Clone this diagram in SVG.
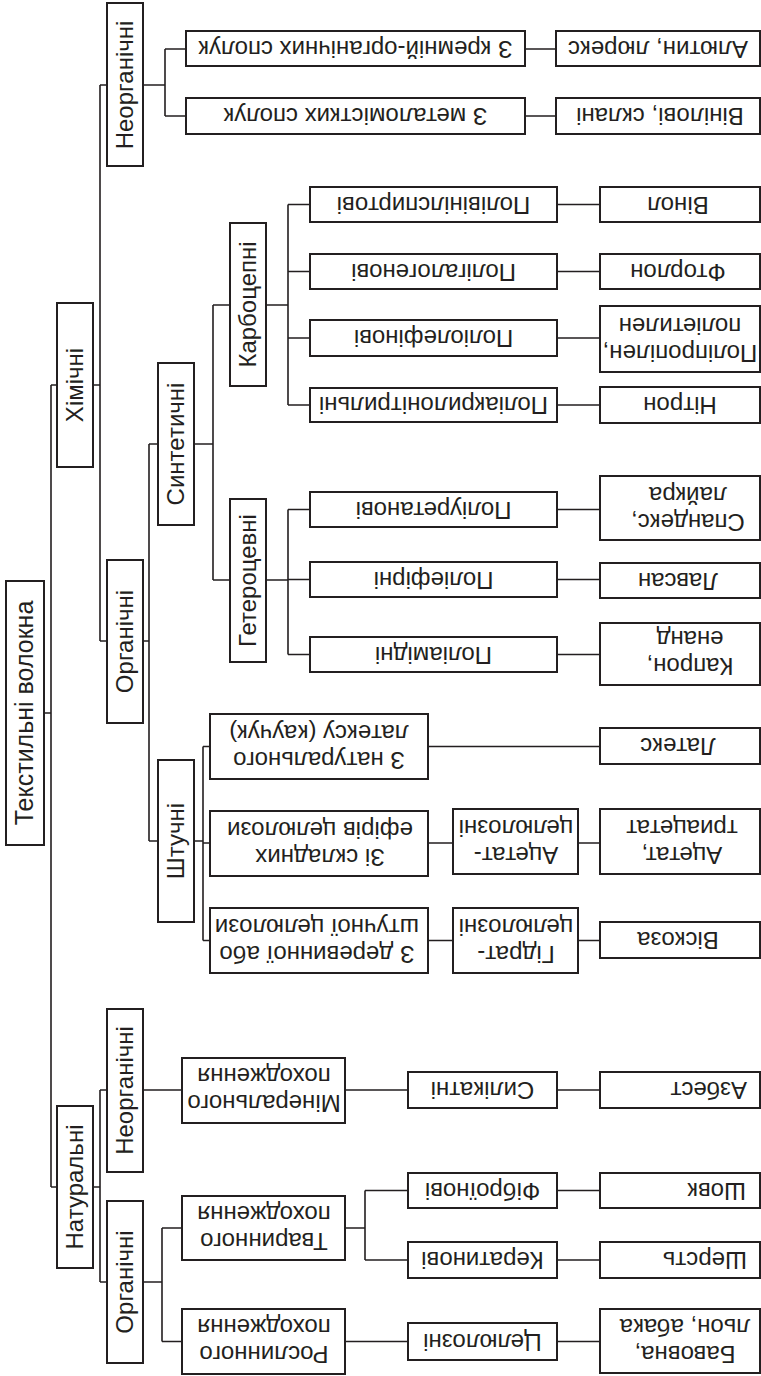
<svg xmlns="http://www.w3.org/2000/svg" width="761" height="1376" viewBox="0 0 761 1376">
<style>
.b{fill:#fff;stroke:#231f20;stroke-width:2}
.ln{stroke:#231f20;stroke-width:1.6;fill:none}
text{font-family:"Liberation Sans",Arial,sans-serif;font-size:24px;fill:#231f20;text-anchor:middle}
.rt{font-size:25px}
</style>
<rect width="761" height="1376" fill="#fff"/>
<g id="connectors" class="ln">
<path d="M44,713H51 M51,385V1187 M51,385H57 M51,1187H57"/>
<path d="M93,385H100 M100,85V641 M100,85H107 M100,641H107"/>
<path d="M143,85H165 M165,49V116 M165,49H186 M165,116H186 M525,49H556 M525,116H556"/>
<path d="M143,641H149 M149,444V841 M149,444H158 M149,841H158"/>
<path d="M194,444H213 M213,305V580 M213,305H230 M213,580H230"/>
<path d="M266,305H288 M288,204.5V405 M288,204.5H310 M288,271.5H310 M288,338H310 M288,405H310"/>
<path d="M557,204.5H600 M557,271.5H600 M557,338H600 M557,405H600"/>
<path d="M266,580H288 M288,509.5V654.5 M288,509.5H310 M288,579.5H310 M288,654.5H310"/>
<path d="M557,509.5H600 M557,579.5H600 M557,654.5H600"/>
<path d="M194,841H203 M203,746.5V940.5 M203,746.5H210 M203,843H210 M203,940.5H210"/>
<path d="M428,746.5H600 M428,843H453 M578,843H600 M428,940.5H453 M578,940.5H600"/>
<path d="M93,1187H100 M100,1090V1282 M100,1090H107 M100,1282H107"/>
<path d="M143,1090H182 M345,1090H408 M557,1090H600"/>
<path d="M143,1282H162 M162,1228V1341.5 M162,1228H182 M162,1341.5H182"/>
<path d="M345,1228H365 M365,1190.5V1260 M365,1190.5H408 M365,1260H408"/>
<path d="M557,1190.5H600 M557,1260H600 M345,1341.5H408 M557,1341.5H600"/>
</g>

<g id="root"><rect class="b" x="6" y="581" width="38" height="264"/><text class="rt" transform="translate(25,713) rotate(-90)" y="8">Текстильні волокна</text></g>
<g id="khimichni"><rect class="b" x="57" y="303" width="36" height="164"/><text transform="translate(75,385) rotate(-90)" y="8">Хімічні</text></g>
<g id="naturalni"><rect class="b" x="57" y="1106" width="36" height="162"/><text transform="translate(75,1187) rotate(-90)" y="8">Натуральні</text></g>
<g id="chem_neorg"><rect class="b" x="107" y="3" width="36" height="163"/><text transform="translate(125,85) rotate(-90)" y="8">Неорганічні</text></g>
<g id="chem_org"><rect class="b" x="107" y="560" width="36" height="163"/><text transform="translate(125,641.5) rotate(-90)" y="8">Органічні</text></g>
<g id="nat_neorg"><rect class="b" x="107" y="1009" width="36" height="163"/><text transform="translate(125,1090.5) rotate(-90)" y="8">Неорганічні</text></g>
<g id="nat_org"><rect class="b" x="107" y="1201" width="36" height="162"/><text transform="translate(125,1282) rotate(-90)" y="8">Органічні</text></g>
<g id="syntetychni"><rect class="b" x="158" y="363" width="36" height="162"/><text transform="translate(176,444) rotate(-90)" y="8">Синтетичні</text></g>
<g id="shtuchni"><rect class="b" x="158" y="760" width="36" height="162"/><text transform="translate(176,841) rotate(-90)" y="8">Штучні</text></g>
<g id="karbotsepni"><rect class="b" x="230" y="223" width="36" height="163"/><text transform="translate(248,304.5) rotate(-90)" y="8">Карбоцепні</text></g>
<g id="heterotsevni"><rect class="b" x="230" y="499" width="36" height="163"/><text transform="translate(248,580.5) rotate(-90)" y="8">Гетероцевні</text></g>

<g id="kremnii"><rect class="b" x="186" y="31" width="339" height="35"/><text transform="translate(355.5,48.5) rotate(180)" y="8">З кремній-органічних сполук</text></g>
<g id="alyutyn"><rect class="b" x="556" y="31" width="204" height="35"/><text transform="translate(658,48.5) rotate(180)" y="8">Алютин, люрекс</text></g>
<g id="metalo"><rect class="b" x="186" y="98" width="339" height="36"/><text transform="translate(355.5,116) rotate(180)" y="8">З металомістких сполук</text></g>
<g id="vinilovi"><rect class="b" x="556" y="98" width="204" height="36"/><text transform="translate(660,116) rotate(180)" y="8">Вінілові, склані</text></g>

<g id="polivinil"><rect class="b" x="310" y="187" width="247" height="35"/><text transform="translate(433.5,204.5) rotate(180)" y="8">Полівінілспиртові</text></g>
<g id="vinol"><rect class="b" x="600" y="187" width="160" height="35"/><text transform="translate(678,204.5) rotate(180)" y="8">Вінол</text></g>
<g id="polihalo"><rect class="b" x="310" y="254" width="247" height="35"/><text transform="translate(433.5,271.5) rotate(180)" y="8">Полігалогенові</text></g>
<g id="ftorlon"><rect class="b" x="600" y="254" width="160" height="35"/><text transform="translate(678,271.5) rotate(180)" y="8">Фторлон</text></g>
<g id="poliolef"><rect class="b" x="310" y="320" width="247" height="36"/><text transform="translate(433.5,338) rotate(180)" y="8">Поліолефінові</text></g>
<g id="polipropilen"><rect class="b" x="600" y="306" width="160" height="66"/><text transform="translate(680,339) rotate(180)"><tspan x="0" y="-5.5">Поліпропілен,</tspan><tspan x="0" y="21.5">поліетилен</tspan></text></g>
<g id="poliakr"><rect class="b" x="310" y="388" width="247" height="34"/><text transform="translate(433.5,405) rotate(180)" y="8">Поліакрилонітрильні</text></g>
<g id="nitron"><rect class="b" x="600" y="387" width="160" height="36"/><text transform="translate(680,405) rotate(180)" y="8">Нітрон</text></g>

<g id="poliuretan"><rect class="b" x="310" y="492" width="247" height="35"/><text transform="translate(433.5,509.5) rotate(180)" y="8">Поліуретанові</text></g>
<g id="spandeks"><rect class="b" x="600" y="476" width="160" height="64"/><text transform="translate(688,508) rotate(180)"><tspan x="0" y="-5.5">Спандекс,</tspan><tspan x="0" y="21.5">лайкра</tspan></text></g>
<g id="poliefirni"><rect class="b" x="310" y="562" width="247" height="35"/><text transform="translate(433.5,579.5) rotate(180)" y="8">Поліефірні</text></g>
<g id="lavsan"><rect class="b" x="600" y="563" width="160" height="35"/><text transform="translate(678,580.5) rotate(180)" y="8">Лавсан</text></g>
<g id="poliamidni"><rect class="b" x="310" y="637" width="247" height="35"/><text transform="translate(433.5,654.5) rotate(180)" y="8">Поліамідні</text></g>
<g id="kapron"><rect class="b" x="600" y="623" width="160" height="62"/><text transform="translate(690,652) rotate(180)"><tspan x="0" y="-5.5">Капрон,</tspan><tspan x="0" y="21.5">енанд</tspan></text></g>

<g id="z_latex"><rect class="b" x="210" y="714" width="218" height="65"/><text transform="translate(319,746.5) rotate(180)"><tspan x="0" y="-5.5">З натурального</tspan><tspan x="0" y="21.5">латексу (каучук)</tspan></text></g>
<g id="latex"><rect class="b" x="600" y="728" width="160" height="36"/><text transform="translate(678,746) rotate(180)" y="8">Латекс</text></g>
<g id="z_efiriv"><rect class="b" x="210" y="811" width="218" height="65"/><text transform="translate(320,843.5) rotate(180)"><tspan x="0" y="-5.5">Зі складних</tspan><tspan x="0" y="21.5">ефірів целюлози</tspan></text></g>
<g id="atsetat_tsel"><rect class="b" x="453" y="809" width="125" height="65"/><text transform="translate(516,841.5) rotate(180)"><tspan x="0" y="-5.5">Ацетат-</tspan><tspan x="0" y="21.5">целюлозні</tspan></text></g>
<g id="atsetat"><rect class="b" x="600" y="809" width="160" height="65"/><text transform="translate(682,841.5) rotate(180)"><tspan x="0" y="-5.5">Ацетат,</tspan><tspan x="0" y="21.5">триацетат</tspan></text></g>
<g id="z_derevyny"><rect class="b" x="210" y="908" width="218" height="65"/><text transform="translate(317,940.5) rotate(180)"><tspan x="0" y="-5.5">З деревинної або</tspan><tspan x="0" y="21.5">штучної целюлози</tspan></text></g>
<g id="hidrat_tsel"><rect class="b" x="453" y="908" width="125" height="65"/><text transform="translate(516,940.5) rotate(180)"><tspan x="0" y="-5.5">Гідрат-</tspan><tspan x="0" y="21.5">целюлозні</tspan></text></g>
<g id="viskoza"><rect class="b" x="600" y="922" width="160" height="36"/><text transform="translate(678,940) rotate(180)" y="8">Віскоза</text></g>

<g id="mineralnoho"><rect class="b" x="182" y="1058" width="163" height="65"/><text transform="translate(264,1089) rotate(180)"><tspan x="0" y="-5.5">Мінерального</tspan><tspan x="0" y="21.5">походження</tspan></text></g>
<g id="sylikatni"><rect class="b" x="408" y="1072" width="149" height="36"/><text transform="translate(482.5,1090) rotate(180)" y="8">Силікатні</text></g>
<g id="azbest"><rect class="b" x="600" y="1072" width="160" height="36"/><text transform="translate(747,1090) rotate(180)" y="8" style="text-anchor:start">Азбест</text></g>
<g id="tvarynnoho"><rect class="b" x="182" y="1196" width="163" height="64"/><text transform="translate(264,1227) rotate(180)"><tspan x="0" y="-5.5">Тваринного</tspan><tspan x="0" y="21.5">походження</tspan></text></g>
<g id="fibroinovi"><rect class="b" x="408" y="1173" width="149" height="35"/><text transform="translate(482.5,1190.5) rotate(180)" y="8">Фіброїнові</text></g>
<g id="shovk"><rect class="b" x="600" y="1173" width="160" height="35"/><text transform="translate(746,1190.5) rotate(180)" y="8" style="text-anchor:start">Шовк</text></g>
<g id="keratynovi"><rect class="b" x="408" y="1242" width="149" height="36"/><text transform="translate(482.5,1260) rotate(180)" y="8">Кератинові</text></g>
<g id="sherst"><rect class="b" x="600" y="1242" width="160" height="36"/><text transform="translate(747,1260) rotate(180)" y="8" style="text-anchor:start">Шерсть</text></g>
<g id="roslynnoho"><rect class="b" x="182" y="1309" width="163" height="65"/><text transform="translate(264,1340) rotate(180)"><tspan x="0" y="-5.5">Рослинного</tspan><tspan x="0" y="21.5">походження</tspan></text></g>
<g id="tselyulozni"><rect class="b" x="408" y="1323" width="149" height="37"/><text transform="translate(482.5,1341.5) rotate(180)" y="8">Целюлозні</text></g>
<g id="bavovna"><rect class="b" x="600" y="1309" width="160" height="64"/><text transform="translate(685,1340) rotate(180)"><tspan x="0" y="-5.5">Бавовна,</tspan><tspan x="0" y="21.5">льон, абака</tspan></text></g>
</svg>
